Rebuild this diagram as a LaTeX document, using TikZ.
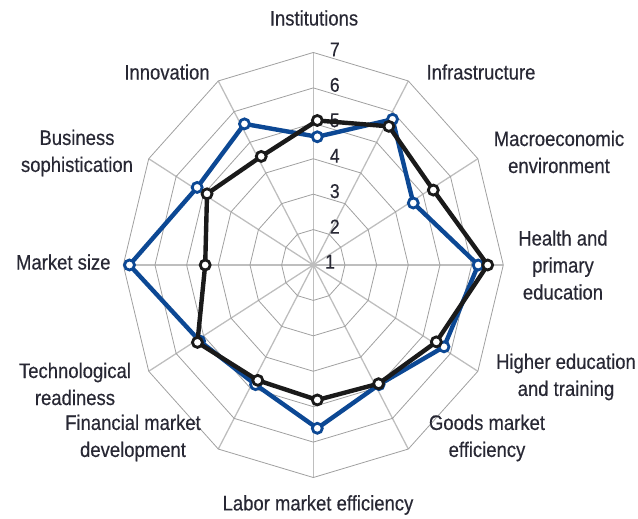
\documentclass[tikz,border=0pt]{standalone}
\usepackage{fontspec}
\setmainfont{Liberation Sans}[FakeStretch=0.88, FakeBold=0.4]
\usepackage{tikz}

\definecolor{labelgray}{RGB}{40,40,52}
\definecolor{seriesblue}{RGB}{12,72,148}
\definecolor{seriesblack}{RGB}{26,26,26}
\definecolor{ringgray}{RGB}{160,160,160}
\definecolor{spokegray}{RGB}{190,190,190}

\tikzset{
  ring/.style={draw=ringgray, line width=0.8pt},
  spoke/.style={draw=spokegray, line width=1.3pt},
  axislabel/.style={text=labelgray, align=center, inner sep=0pt, font=\fontsize{21}{27}\selectfont},
  tick/.style={text=labelgray, inner sep=0pt, font=\fontsize{20}{24}\selectfont},
  series/.style={line width=4.4pt, line join=round},
  dot/.style={circle, fill=white, line width=2.8pt, minimum size=10pt, inner sep=0pt}
}

\begin{document}
\begin{tikzpicture}[x=31.67pt, y=35.42pt]
\useasboundingbox (-313.3pt,-254pt) rectangle (324.7pt,265pt);

% grid
\foreach \a in {0,30,...,330}
  \draw[spoke] (0,0) -- (\a:6);
\foreach \r in {1,...,6}
  \draw[ring] (0:\r) \foreach \a in {30,60,...,330} { -- (\a:\r) } -- cycle;

% scale
\node[tick] (t1) at (16.7pt,3.3pt) {1};
\foreach \v [evaluate=\v as \r using \v-1] in {2,...,7}
  \node[tick, xshift=21.5pt, yshift=3pt] (t\v) at (90:\r) {\v};

% pillars
\node[axislabel] (inst)  at (0.7pt,247pt)      {Institutions};
\node[axislabel] (infra) at (167.7pt,193pt)    {Infrastructure};
\node[axislabel] (macro) at (245.7pt,113pt)    {Macroeconomic\\environment};
\node[axislabel] (health) at (249.7pt,0pt)     {Health and\\primary\\education};
\node[axislabel] (higher) at (252.7pt,-112pt)  {Higher education\\and training};
\node[axislabel] (goods) at (173.7pt,-173pt)   {Goods market\\efficiency};
\node[axislabel] (labor) at (4.7pt,-240pt)     {Labor market efficiency};
\node[axislabel] (fin)   at (-180.3pt,-173pt)  {Financial market\\development};
\node[axislabel] (tech)  at (-238.3pt,-119pt)  {Technological\\readiness};
\node[axislabel] (msize) at (-250pt,3pt)       {Market size};
\node[axislabel] (bsoph) at (-236.3pt,112pt)   {Business\\sophistication};
\node[axislabel] (innov) at (-146.3pt,193pt)   {Innovation};

\begin{scope}[xshift=4pt]
% blue series
\foreach \v [count=\i from 0] in {4.62,5.75,4.50,6.08,5.62,4.90,5.61,4.90,5.29,6.93,5.38,5.60}
  \coordinate (b\i) at ({90-30*\i}:{\v-1});
\draw[series, seriesblue] (b0) \foreach \i in {1,...,11} { -- (b\i) } -- cycle;
\foreach \i in {0,...,11}
  \node[dot, draw=seriesblue] (bd\i) at (b\i) {};

% black series
\foreach \v [count=\i from 0] in {5.08,5.52,5.23,6.38,5.34,4.87,4.81,4.76,5.37,4.54,5.02,4.54}
  \coordinate (k\i) at ({90-30*\i}:{\v-1});
\draw[series, seriesblack] (k0) \foreach \i in {1,...,11} { -- (k\i) } -- cycle;
\foreach \i in {0,...,11}
  \node[dot, draw=seriesblack] (kd\i) at (k\i) {};
\end{scope}

\end{tikzpicture}
\end{document}
